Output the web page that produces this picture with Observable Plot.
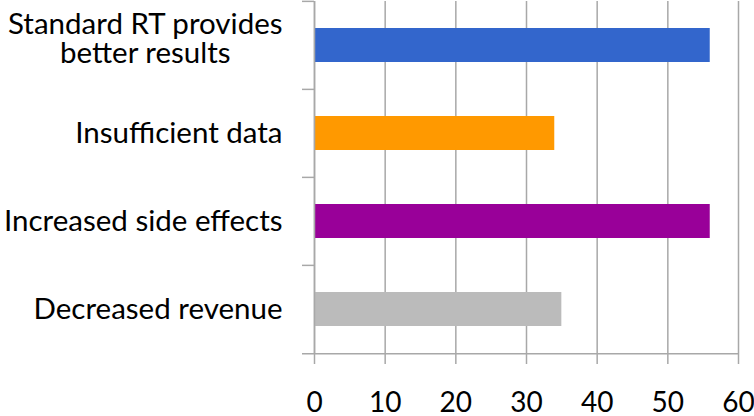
<!DOCTYPE html>
<html>
<head>
<meta charset="utf-8">
<script src="https://cdn.jsdelivr.net/npm/d3@7"></script>
<script src="https://cdn.jsdelivr.net/npm/@observablehq/plot@0.6"></script>
<style>
  html, body { margin: 0; padding: 0; background: #fff; }
</style>
</head>
<body>
<script>
const categories = ["Standard RT provides\nbetter results", "Insufficient data", "Increased side effects", "Decreased revenue"];
const values = [56, 34, 56, 35];
const barColors = ["#3366cc", "#ff9900", "#990099", "#bbbbbb"];
const xTicks = [0, 10, 20, 30, 40, 50, 60];

const data = categories.map((c, i) => ({category: c, value: values[i]}));

const W = 754, H = 416, mTop = 1, mBottom = 62, mLeft = 314, mRight = 16;
const step = (H - mTop - mBottom) / categories.length;
const gridColor = "#a8a8a8";

const chart = Plot.plot({
  width: W, height: H,
  marginTop: mTop, marginBottom: mBottom, marginLeft: mLeft, marginRight: mRight,
  style: {fontFamily: "Lato, sans-serif", fontSize: "29px", color: "#000", background: "#fff", overflow: "visible"},
  x: {domain: [0, 60], ticks: xTicks, label: null},
  y: {domain: categories, paddingInner: 0.61, paddingOuter: 0.305, label: null},
  color: {domain: categories, range: barColors},
  marks: [
    Plot.gridX(xTicks, {stroke: gridColor, strokeOpacity: 1, strokeWidth: 1.5}),
    Plot.barX(data, {x: "value", y: "category", fill: "category"}),
    Plot.ruleX([0], {stroke: gridColor, strokeWidth: 1.5}),
    Plot.ruleY([categories[categories.length - 1]], {dy: step / 2, insetLeft: -12, stroke: gridColor, strokeWidth: 1.5}),
    Plot.axisY({tickSize: 12, dy: -step / 2, tickFormat: () => "", stroke: gridColor, strokeWidth: 1.5}),
    Plot.axisY({tickSize: 0, tickPadding: 32, fontSize: 29.5, lineHeight: 0.98, fill: "#000", style: {letterSpacing: "0.5px"}}),
    Plot.axisX({ticks: xTicks, tickSize: 10, tickPadding: 28, fontSize: 28, stroke: gridColor, strokeWidth: 1.5, fill: "#000"})
  ]
});

document.body.append(chart);

// center the lines of multi-line category labels within their block, nudged up as in the reference
chart.querySelectorAll("text").forEach(t => {
  const spans = t.querySelectorAll("tspan");
  if (spans.length > 1) {
    let w = 0;
    spans.forEach(s => { w = Math.max(w, s.getComputedTextLength()); });
    t.setAttribute("text-anchor", "middle");
    spans.forEach(s => s.setAttribute("x", -w / 2));
    t.setAttribute("transform", ((t.getAttribute("transform") || "") + " translate(0,-6)").trim());
  }
});
</script>
</body>
</html>
